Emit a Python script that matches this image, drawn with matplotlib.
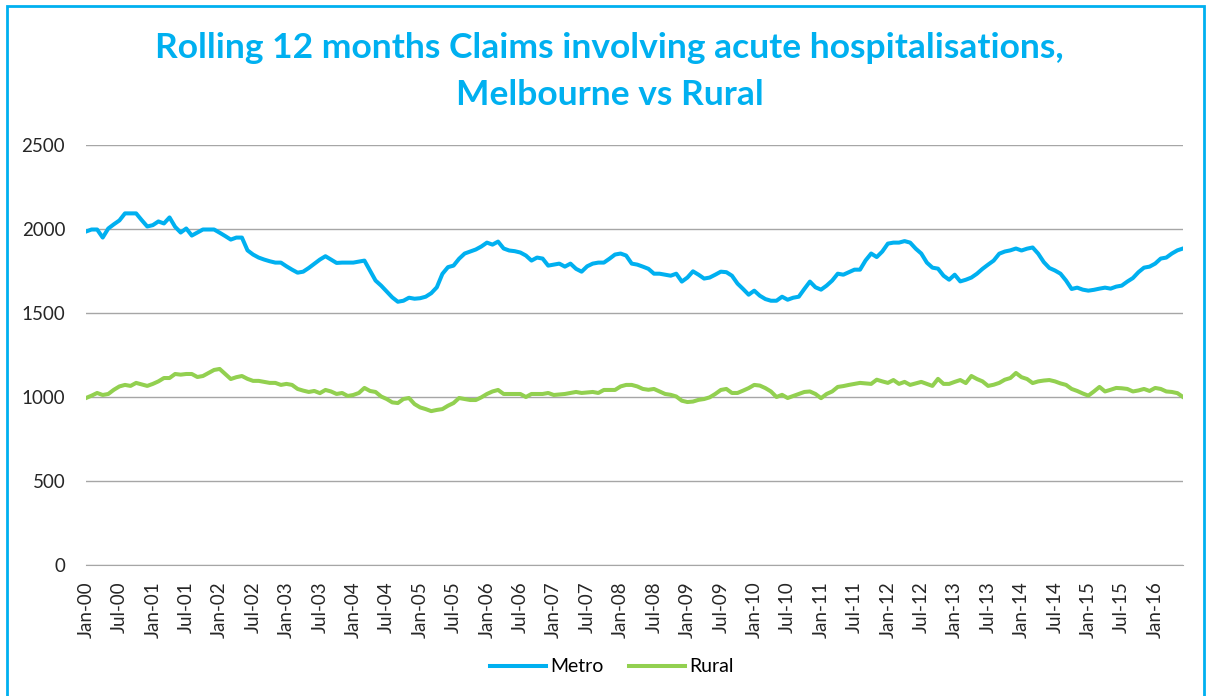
import numpy as np
import pandas as pd
import matplotlib
matplotlib.use('Agg')
import matplotlib.pyplot as plt
from matplotlib.patches import Rectangle

# monthly values, Jan-2000 .. Jun-2016
metro = [
    1982, 1994, 1994, 1946, 2000, 2025, 2048, 2090, 2090, 2090, 2050, 2012,
    2020, 2042, 2030, 2066, 2010, 1976, 2000, 1958, 1976, 1994, 1994, 1994,
    1975, 1955, 1934, 1946, 1946, 1870, 1845, 1827, 1815, 1805, 1797, 1797,
    1775, 1755, 1737, 1743, 1765, 1790, 1815, 1835, 1815, 1795, 1797, 1797,
    1797, 1803, 1809, 1750, 1690, 1660, 1625, 1590, 1564, 1570, 1588, 1582,
    1585, 1594, 1615, 1650, 1730, 1770, 1779, 1820, 1851, 1863, 1875, 1893,
    1916, 1904, 1922, 1881, 1869, 1865, 1857, 1839, 1809, 1827, 1821, 1779,
    1785, 1791, 1773, 1791, 1760, 1743, 1775, 1791, 1797, 1797, 1820, 1845,
    1851, 1839, 1791, 1785, 1773, 1760, 1731, 1731, 1725, 1719, 1731, 1684,
    1708, 1745, 1725, 1702, 1708, 1725, 1743, 1740, 1719, 1672, 1640, 1606,
    1630, 1600, 1580, 1570, 1570, 1594, 1576, 1588, 1594, 1640, 1684, 1650,
    1636, 1660, 1690, 1731, 1725, 1740, 1755, 1755, 1810, 1851, 1830, 1863,
    1910, 1916, 1916, 1925, 1916, 1880, 1851, 1797, 1767, 1761, 1719, 1695,
    1725, 1685, 1695, 1708, 1731, 1760, 1785, 1809, 1850, 1863, 1870, 1881,
    1869, 1880, 1887, 1850, 1800, 1765, 1750, 1731, 1690, 1640, 1648, 1636,
    1630, 1635, 1642, 1648, 1642, 1654, 1660, 1684, 1705, 1740, 1767, 1773,
    1791, 1821, 1827, 1851, 1870, 1881,
]
rural = [
    991, 1005, 1021, 1009, 1015, 1040, 1060, 1069, 1063, 1081, 1072, 1063,
    1075, 1090, 1110, 1110, 1134, 1130, 1134, 1134, 1116, 1122, 1140, 1158,
    1164, 1134, 1104, 1115, 1122, 1105, 1093, 1093, 1087, 1081, 1081, 1069,
    1075, 1069, 1045, 1035, 1027, 1033, 1020, 1039, 1030, 1015, 1021, 1003,
    1009, 1021, 1051, 1033, 1027, 1000, 985, 965, 961, 985, 991, 955,
    935, 925, 913, 920, 925, 945, 961, 991, 985, 979, 979, 995,
    1015, 1030, 1039, 1015, 1015, 1015, 1015, 997, 1015, 1015, 1015, 1021,
    1009, 1012, 1015, 1021, 1027, 1021, 1024, 1027, 1021, 1039, 1039, 1039,
    1060, 1069, 1069, 1060, 1045, 1040, 1045, 1030, 1015, 1010, 1000, 975,
    967, 970, 980, 985, 995, 1015, 1039, 1045, 1021, 1021, 1035, 1050,
    1069, 1065, 1050, 1030, 997, 1010, 991, 1003, 1015, 1027, 1030, 1015,
    990, 1015, 1030, 1057, 1062, 1069, 1075, 1081, 1078, 1075, 1100, 1090,
    1081, 1098, 1075, 1087, 1069, 1078, 1087, 1075, 1063, 1105, 1075, 1075,
    1087, 1098, 1080, 1122, 1104, 1090, 1063, 1070, 1081, 1100, 1110, 1140,
    1115, 1104, 1080, 1090, 1095, 1098, 1090, 1078, 1069, 1045, 1033, 1018,
    1005, 1030, 1057, 1030, 1040, 1051, 1049, 1045, 1030, 1036, 1045, 1033,
    1051, 1045, 1030, 1027, 1020, 997,
]
months = pd.date_range('2000-01-01', periods=len(metro), freq='MS')
tick_labels = [d.strftime('%b-%y') for d in months[::6]]

blue = '#00b0f0'
green = '#92d050'
plt.rcParams['font.family'] = ['Lato', 'DejaVu Sans']

fig = plt.figure(figsize=(12.07, 6.96), dpi=100)
ax = fig.add_axes([86 / 1207, 1 - 564.5 / 696, (1183 - 86) / 1207, 420 / 696])

x = np.arange(len(metro))
ax.plot(x, metro, color=blue, lw=2.9, label='Metro', solid_joinstyle='round')
ax.plot(x, rural, color=green, lw=2.9, label='Rural', solid_joinstyle='round')

ax.set_xlim(0, len(metro) - 1)
ax.set_ylim(0, 2500)
ax.set_yticks(range(0, 2501, 500))
ax.set_xticks(x[::6])
ax.set_xticklabels(tick_labels, rotation=90, fontsize=13.5, color='#262626')
ax.tick_params(axis='y', length=0, pad=15, labelsize=13.5, labelcolor='#262626')
ax.tick_params(axis='x', length=0, pad=12)
ax.grid(axis='y', color='#a6a6a6', lw=1)
ax.set_axisbelow(True)
for s in ['top', 'right', 'left']:
    ax.spines[s].set_visible(False)
ax.spines['bottom'].set_color('#a6a6a6')

# two-line title, each line placed separately
fig.text(0.505, 1 - 48 / 696, 'Rolling 12 months Claims involving acute hospitalisations,',
         ha='center', va='center', fontsize=25.5, fontweight='bold', color=blue)
fig.text(0.505, 1 - 95 / 696, 'Melbourne vs Rural',
         ha='center', va='center', fontsize=25.5, fontweight='bold', color=blue)

fig.legend(loc='center', bbox_to_anchor=(0.507, 1 - 667 / 696), ncol=2, frameon=False,
           fontsize=14, handlelength=2.9, handletextpad=0.2, columnspacing=1.3)

# chart border
fig.patches.append(Rectangle((7 / 1207, -0.02), 1197 / 1207, 1.012, transform=fig.transFigure,
                             fill=False, edgecolor=blue, lw=2))

fig.savefig('out.png', dpi=100)
